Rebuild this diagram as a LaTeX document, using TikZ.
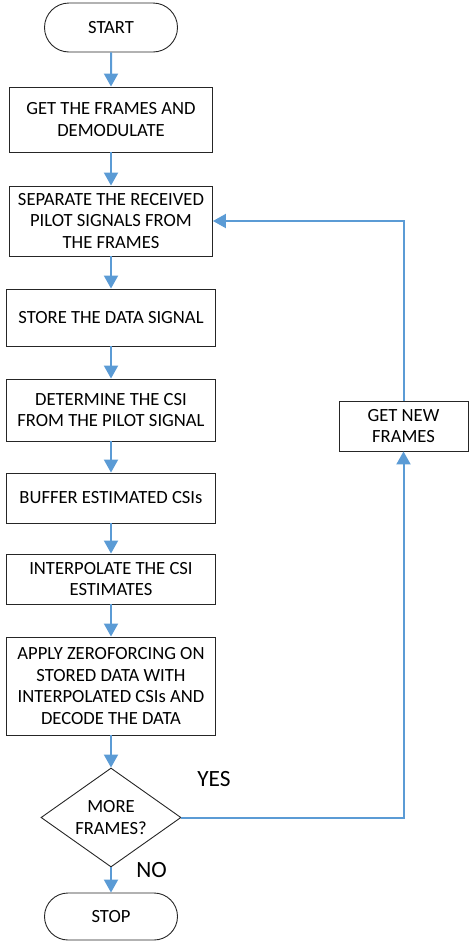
\documentclass[tikz,border=0pt]{standalone}
\usepackage{fontspec}
\setmainfont{Carlito}
\usetikzlibrary{calc}
\usetikzlibrary{arrows.meta}
\usetikzlibrary{shapes.geometric,shapes.misc}
\definecolor{flowblue}{RGB}{91,155,213}
\tikzset{
	stepbox/.style={draw=black!85, line width=0.9pt, align=center, inner sep=0pt,
		font=\fontsize{18.6}{21.7}\selectfont},
	term/.style={stepbox, rounded rectangle, minimum width=133, minimum height=49},
	decide/.style={stepbox, diamond, aspect=1.41, minimum width=140, minimum height=99},
	flow/.style={draw=flowblue, line width=2pt, -{Triangle[length=13pt,width=14pt]}},
	answer/.style={inner sep=0pt, font=\fontsize{23.3}{26}\selectfont},
}
\begin{document}
\begin{tikzpicture}[x=1pt,y=-1pt]
		\useasboundingbox (0,0) rectangle (469,943);
		% main column
		\node[term] (start) at (111,27.5) {START};
		\node[stepbox, minimum width=203, minimum height=65] (get) at (111,119.5) {GET THE FRAMES AND\\DEMODULATE};
		\node[stepbox, minimum width=203, minimum height=70] (sep) at (111,221) {SEPARATE THE RECEIVED\\PILOT SIGNALS FROM\\THE FRAMES};
		\node[stepbox, minimum width=209, minimum height=57] (store) at (111,317.5) {STORE THE DATA SIGNAL};
		\node[stepbox, minimum width=209, minimum height=62] (csi) at (111,410) {DETERMINE THE CSI\\FROM THE PILOT SIGNAL};
		\node[stepbox, minimum width=209, minimum height=50] (buf) at (111,498) {BUFFER ESTIMATED CSIs};
		\node[stepbox, minimum width=209, minimum height=50] (interp) at (111,579) {INTERPOLATE THE CSI\\ESTIMATES};
		\node[stepbox, minimum width=209, minimum height=98] (zf) at (111,686) {APPLY ZEROFORCING ON\\STORED DATA WITH\\INTERPOLATED CSIs AND\\DECODE THE DATA};
		\node[decide] (more) at (111,817.5) {MORE\\FRAMES?};
		\node[term, minimum height=47] (stop) at (111,916.5) {STOP};
		% loop back
		\node[stepbox, minimum width=129, minimum height=50] (new) at (403.5,426) {GET NEW\\FRAMES};
		\node[answer] (yes) at (214,779) {YES};
		\node[answer] (no) at (151.5,870.5) {NO};
		\foreach \a/\b in {start/get,get/sep,sep/store,store/csi,csi/buf,buf/interp,interp/zf,zf/more,more/stop}
			\draw[flow] (\a) -- (\b);
		\draw[flow] (more.east) -| (new.south);
		\draw[flow] (new.north) |- (sep.east);
	\end{tikzpicture}
\end{document}
